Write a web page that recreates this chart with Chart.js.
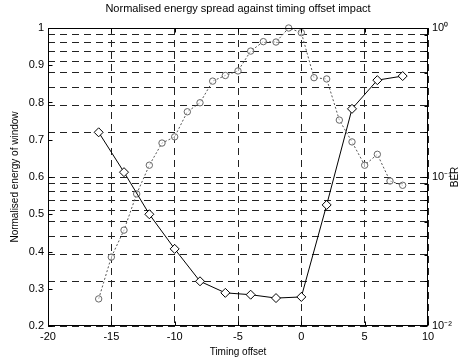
<!DOCTYPE html>
<html>
<head>
<meta charset="utf-8">
<script src="https://cdn.jsdelivr.net/npm/chart.js@4"></script>
<style>
  body { margin: 0; background: #fff; }
  canvas { display: block; }
</style>
</head>
<body>
<canvas id="energyChart" width="461" height="360"></canvas>
<script>
// timing offsets and normalised energy (left axis)
var energyOffsets = [-16, -14, -12, -10, -8, -6, -4, -2, 0, 2, 4, 6, 8];
var energyValues = [0.72, 0.613, 0.50, 0.407, 0.32, 0.289, 0.284, 0.275, 0.278, 0.525, 0.783, 0.86, 0.871];

// timing offsets and BER (right log axis)
var berOffsets = [-16, -15, -14, -13, -12, -11, -10, -9, -8, -7, -6, -5, -4, -3, -2, -1, 0, 1, 2, 3, 4, 5, 6, 7, 8];
var berValues = [0.0152, 0.029, 0.044, 0.077, 0.12, 0.169, 0.186, 0.274, 0.315, 0.44, 0.48, 0.515, 0.70, 0.81,
  0.805, 1.0, 0.93, 0.464, 0.455, 0.241, 0.172, 0.12, 0.142, 0.094, 0.088];

// right axis decades and their labels
var berDecades = [0.01, 0.1, 1];
var berDecadeLabels = ['10\u207B\u00B2', '10\u207B\u00B9', '10\u2070'];

var FONT = 'Liberation Sans, Arial, Helvetica, sans-serif';

// log grid positions: 1..9 in every decade
var berGrid = [];
for (var d = 0; d < berDecades.length - 1; d++) {
  for (var m = 1; m < 10; m++) berGrid.push(+(berDecades[d] * m).toPrecision(3));
}
berGrid.push(berDecades[berDecades.length - 1]);

// box round the plot, inward tick marks, and the right axis title
var framePlugin = {
  id: 'frame',
  afterDraw: function (chart) {
    var ctx = chart.ctx;
    var a = chart.chartArea;
    var L = Math.round(a.left) + 0.5, R = Math.round(a.right) - 0.5;
    var T = Math.round(a.top) + 0.5, B = Math.round(a.bottom) - 0.5;
    ctx.save();
    ctx.strokeStyle = '#000';
    ctx.lineWidth = 1;
    ctx.setLineDash([]);
    ctx.strokeRect(L, T, R - L, B - T);

    ctx.beginPath();
    chart.scales.x.ticks.forEach(function (t) {
      var px = Math.round(chart.scales.x.getPixelForValue(t.value)) + 0.5;
      ctx.moveTo(px, B); ctx.lineTo(px, B - 4);
      ctx.moveTo(px, T); ctx.lineTo(px, T + 4);
    });
    chart.scales.y.ticks.forEach(function (t) {
      var py = Math.round(chart.scales.y.getPixelForValue(t.value)) + 0.5;
      ctx.moveTo(L, py); ctx.lineTo(L + 4, py);
    });
    chart.scales.y1.ticks.forEach(function (t) {
      var py = Math.round(chart.scales.y1.getPixelForValue(t.value)) + 0.5;
      var len = berDecades.indexOf(t.value) >= 0 ? 5 : 3;
      ctx.moveTo(R, py); ctx.lineTo(R - len, py);
    });
    ctx.stroke();

    ctx.translate(455, (a.top + a.bottom) / 2);
    ctx.rotate(-Math.PI / 2);
    ctx.fillStyle = '#000';
    ctx.font = '10px ' + FONT;
    ctx.textAlign = 'center';
    ctx.textBaseline = 'middle';
    ctx.fillText('BER', 0, 0);
    ctx.restore();
  }
};

var ctx = document.getElementById('energyChart').getContext('2d');
var chart = new Chart(ctx, {
  type: 'line',
  data: {
    datasets: [{
      label: 'Normalised energy',
      data: energyOffsets.map(function (x, i) { return { x: x, y: energyValues[i] }; }),
      yAxisID: 'y',
      borderColor: '#000',
      borderWidth: 1,
      backgroundColor: '#fff',
      pointStyle: 'rectRot',
      pointRadius: 4.5,
      pointBorderWidth: 1,
      pointBackgroundColor: '#fff',
      tension: 0
    }, {
      label: 'BER',
      data: berOffsets.map(function (x, i) { return { x: x, y: berValues[i] }; }),
      yAxisID: 'y1',
      borderColor: '#555',
      borderWidth: 1,
      borderDash: [2, 2],
      backgroundColor: '#fff',
      pointStyle: 'circle',
      pointRadius: 3.2,
      pointBorderWidth: 1,
      pointBackgroundColor: 'rgba(255,255,255,0.6)',
      pointBorderColor: '#666',
      tension: 0
    }]
  },
  options: {
    responsive: false,
    animation: false,
    clip: false,
    layout: { padding: 0 },
    plugins: {
      legend: { display: false },
      tooltip: { enabled: false },
      title: {
        display: true,
        fullSize: false,
        text: 'Normalised energy spread against timing offset impact',
        color: '#000',
        font: { family: FONT, size: 11, weight: 'normal' },
        padding: { top: 2.4, bottom: 12.4 }
      }
    },
    scales: {
      x: {
        type: 'linear',
        position: 'bottom',
        min: -20,
        max: 10,
        afterFit: function (s) { s.height = 34; },
        ticks: { stepSize: 5, padding: 4, color: '#000', font: { family: FONT, size: 11 } },
        grid: { color: '#222', lineWidth: 1, drawTicks: false },
        border: { display: false, dash: [7, 5] },
        title: {
          display: true, text: 'Timing offset', color: '#000',
          font: { family: FONT, size: 10 }, padding: { top: 0, bottom: 1.5 }
        }
      },
      y: {
        type: 'linear',
        position: 'left',
        min: 0.2,
        max: 1,
        afterFit: function (s) { s.width = 48; },
        ticks: {
          stepSize: 0.1, padding: 4, color: '#000', font: { family: FONT, size: 11 },
          callback: function (v) { return v === 1 ? '1' : v.toFixed(1); }
        },
        grid: { display: false, drawTicks: false },
        border: { display: false },
        title: {
          display: true, text: 'Normalised energy of window', color: '#000',
          font: { family: FONT, size: 10 }, padding: { top: 9, bottom: 0 }
        }
      },
      y1: {
        type: 'logarithmic',
        position: 'right',
        min: 0.01,
        max: 1,
        afterFit: function (s) { s.width = 33; },
        afterBuildTicks: function (s) {
          s.ticks = berGrid.map(function (v) { return { value: v }; });
        },
        ticks: {
          autoSkip: false, padding: 4, color: '#000', font: { family: FONT, size: 11 },
          callback: function (v) {
            var k = berDecades.indexOf(v);
            return k >= 0 ? berDecadeLabels[k] : '';
          }
        },
        grid: { color: '#222', lineWidth: 1, drawTicks: false },
        border: { display: false, dash: [7, 5] }
      }
    }
  },
  plugins: [framePlugin]
});
</script>
</body>
</html>
